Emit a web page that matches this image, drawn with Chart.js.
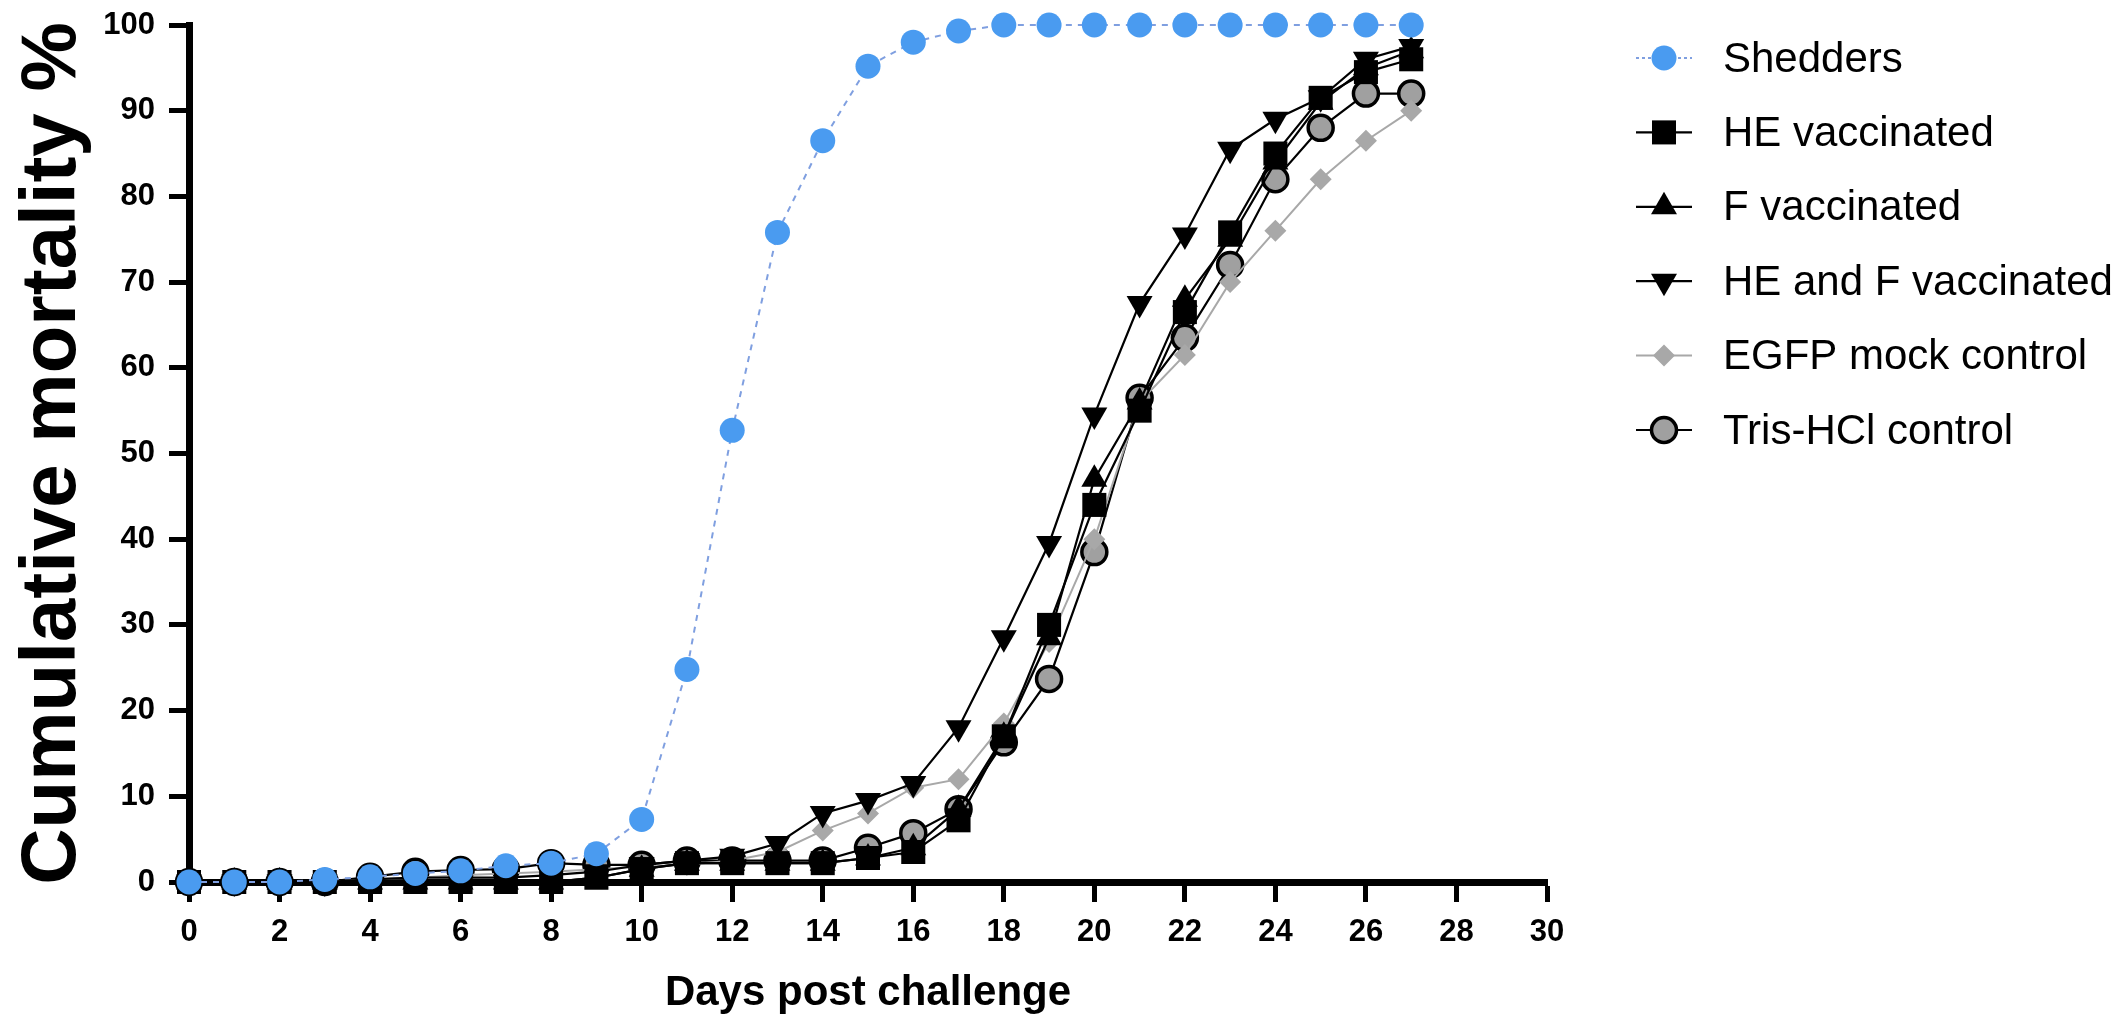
<!DOCTYPE html>
<html>
<head>
<meta charset="utf-8">
<script src="https://cdn.jsdelivr.net/npm/chart.js@4"></script>
<style>
  body { margin: 0; background: #fff; }
  #wrap { width: 2128px; height: 1019px; }
</style>
</head>
<body>
<div id="wrap"><canvas id="chart" width="2128" height="1019"></canvas></div>
<script>
// days post challenge
const days = [0, 1, 2, 3, 4, 5, 6, 7, 8, 9, 10, 11, 12, 13, 14, 15, 16, 17, 18, 19, 20, 21, 22, 23, 24, 25, 26, 27];

// cumulative mortality %
const shedders = [0, 0, 0, 0.3, 0.6, 1.0, 1.3, 1.9, 2.2, 3.3, 7.3, 24.8, 52.7, 75.8, 86.5, 95.2, 98, 99.3, 100, 100, 100, 100, 100, 100, 100, 100, 100, 100];
const heVacc = [0, 0, 0, 0, 0, 0, 0, 0, 0, 0.5, 1.5, 2.2, 2.2, 2.2, 2.2, 2.8, 3.5, 7.2, 17, 30, 44, 55, 66.5, 75.8, 85, 91.5, 94.5, 96];
const fVacc = [0, 0, 0, 0, 0, 0, 0, 0, 0, 0.5, 1.5, 2.2, 2.2, 2.2, 2.2, 2.8, 4, 8.5, 17, 28.5, 47, 56, 68, 75, 84, 91, 95, 97];
const heFVacc = [0, 0, 0, 0, 0.3, 0.5, 0.5, 0.5, 0.8, 1.2, 2, 2.5, 3, 4.5, 8, 9.5, 11.5, 18, 28.5, 39.5, 54.5, 67.5, 75.5, 85.5, 89, 91.5, 96, 97.5];
const egfpMock = [0, 0, 0, 0, 0.3, 0.5, 0.8, 1, 1.2, 1.5, 1.8, 2, 2.5, 3.5, 6, 8, 11, 12, 18.5, 28, 40, 56, 61.5, 70, 76, 82, 86.5, 90];
const trisHcl = [0, 0, 0, 0, 0.6, 1.2, 1.4, 1.5, 2.2, 2, 2, 2.5, 2.5, 2.5, 2.5, 4, 5.7, 8.5, 16.3, 23.7, 38.5, 56.5, 63.5, 72, 82, 88, 92, 92];

const seriesNames = ['Shedders', 'HE vaccinated', 'F vaccinated', 'HE and F vaccinated', 'EGFP mock control', 'Tris-HCl control'];

const toPoints = (vals) => vals.map((v, i) => ({ x: days[i], y: v }));

const datasets = [
  {
    label: seriesNames[0], data: toPoints(shedders),
    borderColor: '#7f9fe0', borderWidth: 2, borderDash: [6, 6],
    pointStyle: 'circle', pointRadius: 12.5, pointBackgroundColor: '#4a9bf0',
    pointBorderColor: '#4a9bf0', pointBorderWidth: 0
  },
  {
    label: seriesNames[1], data: toPoints(heVacc),
    borderColor: '#000', borderWidth: 2.2,
    pointStyle: 'rect', pointRadius: 17, pointBackgroundColor: '#000',
    pointBorderColor: '#000', pointBorderWidth: 0
  },
  {
    label: seriesNames[2], data: toPoints(fVacc),
    borderColor: '#000', borderWidth: 2.2,
    pointStyle: 'triangle', pointRadius: 15, pointBackgroundColor: '#000',
    pointBorderColor: '#000', pointBorderWidth: 0
  },
  {
    label: seriesNames[3], data: toPoints(heFVacc),
    borderColor: '#000', borderWidth: 2.2,
    pointStyle: 'triangle', pointRotation: 180, pointRadius: 15, pointBackgroundColor: '#000',
    pointBorderColor: '#000', pointBorderWidth: 0
  },
  {
    label: seriesNames[4], data: toPoints(egfpMock),
    borderColor: '#a8a8a8', borderWidth: 2,
    pointStyle: 'rectRot', pointRadius: 11, pointBackgroundColor: '#a8a8a8',
    pointBorderColor: '#a8a8a8', pointBorderWidth: 0
  },
  {
    label: seriesNames[5], data: toPoints(trisHcl),
    borderColor: '#000', borderWidth: 2.2,
    pointStyle: 'circle', pointRadius: 12.5, pointBackgroundColor: '#a0a0a0',
    pointBorderColor: '#000', pointBorderWidth: 3.5
  }
];
datasets.forEach(d => { d.tension = 0; d.fill = false; d.clip = false; });

// legend drawn at the right, line + marker like the original
const sideLegend = {
  id: 'sideLegend',
  afterDraw(chart) {
    const ctx = chart.ctx;
    const rowTop = 58, rowGap = 74.4;
    chart.data.datasets.forEach((ds, i) => {
      const y = rowTop + i * rowGap;
      ctx.save();
      ctx.strokeStyle = ds.borderColor;
      ctx.lineWidth = ds.borderWidth;
      ctx.setLineDash(i === 0 ? [3, 3] : []);
      ctx.beginPath();
      ctx.moveTo(1636, y);
      ctx.lineTo(1692, y);
      ctx.stroke();
      ctx.setLineDash([]);
      ctx.fillStyle = ds.pointBackgroundColor;
      ctx.strokeStyle = ds.pointBorderColor;
      ctx.lineWidth = ds.pointBorderWidth;
      Chart.helpers.drawPoint(ctx, {
        pointStyle: ds.pointStyle,
        rotation: ds.pointRotation || 0,
        radius: ds.pointRadius,
        borderWidth: ds.pointBorderWidth
      }, 1664, y);
      ctx.fillStyle = '#000';
      ctx.font = '42px "Liberation Sans", Arial, sans-serif';
      ctx.textBaseline = 'middle';
      ctx.textAlign = 'left';
      ctx.fillText(ds.label, 1723, y + 2);
      ctx.restore();
    });
  }
};

const whiteBg = {
  id: 'whiteBg',
  beforeDraw(chart) {
    const ctx = chart.ctx;
    ctx.save();
    ctx.fillStyle = '#fff';
    ctx.fillRect(0, 0, chart.width, chart.height);
    ctx.restore();
  }
};

const axisFont = { family: '"Liberation Sans", Arial, sans-serif', weight: 'bold' };

new Chart(document.getElementById('chart'), {
  type: 'line',
  data: { datasets: datasets },
  options: {
    responsive: false,
    animation: false,
    layout: { padding: { top: 25, right: 2128 - 1547, left: 0, bottom: 0 } },
    plugins: {
      legend: { display: false },
      tooltip: { enabled: false }
    },
    scales: {
      x: {
        type: 'linear',
        min: 0,
        max: 30,
        afterFit: (scale) => { scale.height = 1019 - 882; },
        ticks: {
          stepSize: 2,
          color: '#000',
          padding: 12,
          font: { ...axisFont, size: 31 }
        },
        grid: {
          drawOnChartArea: false,
          drawTicks: true,
          tickLength: 20,
          tickWidth: 5,
          tickColor: '#000',
          color: '#000'
        },
        border: { display: true, color: '#000', width: 7 },
        title: {
          display: true,
          text: 'Days post challenge',
          color: '#000',
          padding: { top: 0, bottom: 0 },
          font: { ...axisFont, size: 42 }
        }
      },
      y: {
        min: 0,
        max: 100,
        afterFit: (scale) => {
          scale.width = 189;
          scale.paddingTop = 0;
          scale.paddingBottom = 0;
        },
        ticks: {
          stepSize: 10,
          color: '#000',
          padding: 14,
          font: { ...axisFont, size: 31 }
        },
        grid: {
          drawOnChartArea: false,
          drawTicks: true,
          tickLength: 20,
          tickWidth: 5,
          tickColor: '#000',
          color: '#000'
        },
        border: { display: true, color: '#000', width: 7 },
        title: {
          display: true,
          text: 'Cumulative mortality %',
          color: '#000',
          padding: { top: 7, bottom: 0 },
          font: { ...axisFont, size: 78 }
        }
      }
    }
  },
  plugins: [whiteBg, sideLegend]
});
</script>
</body>
</html>
